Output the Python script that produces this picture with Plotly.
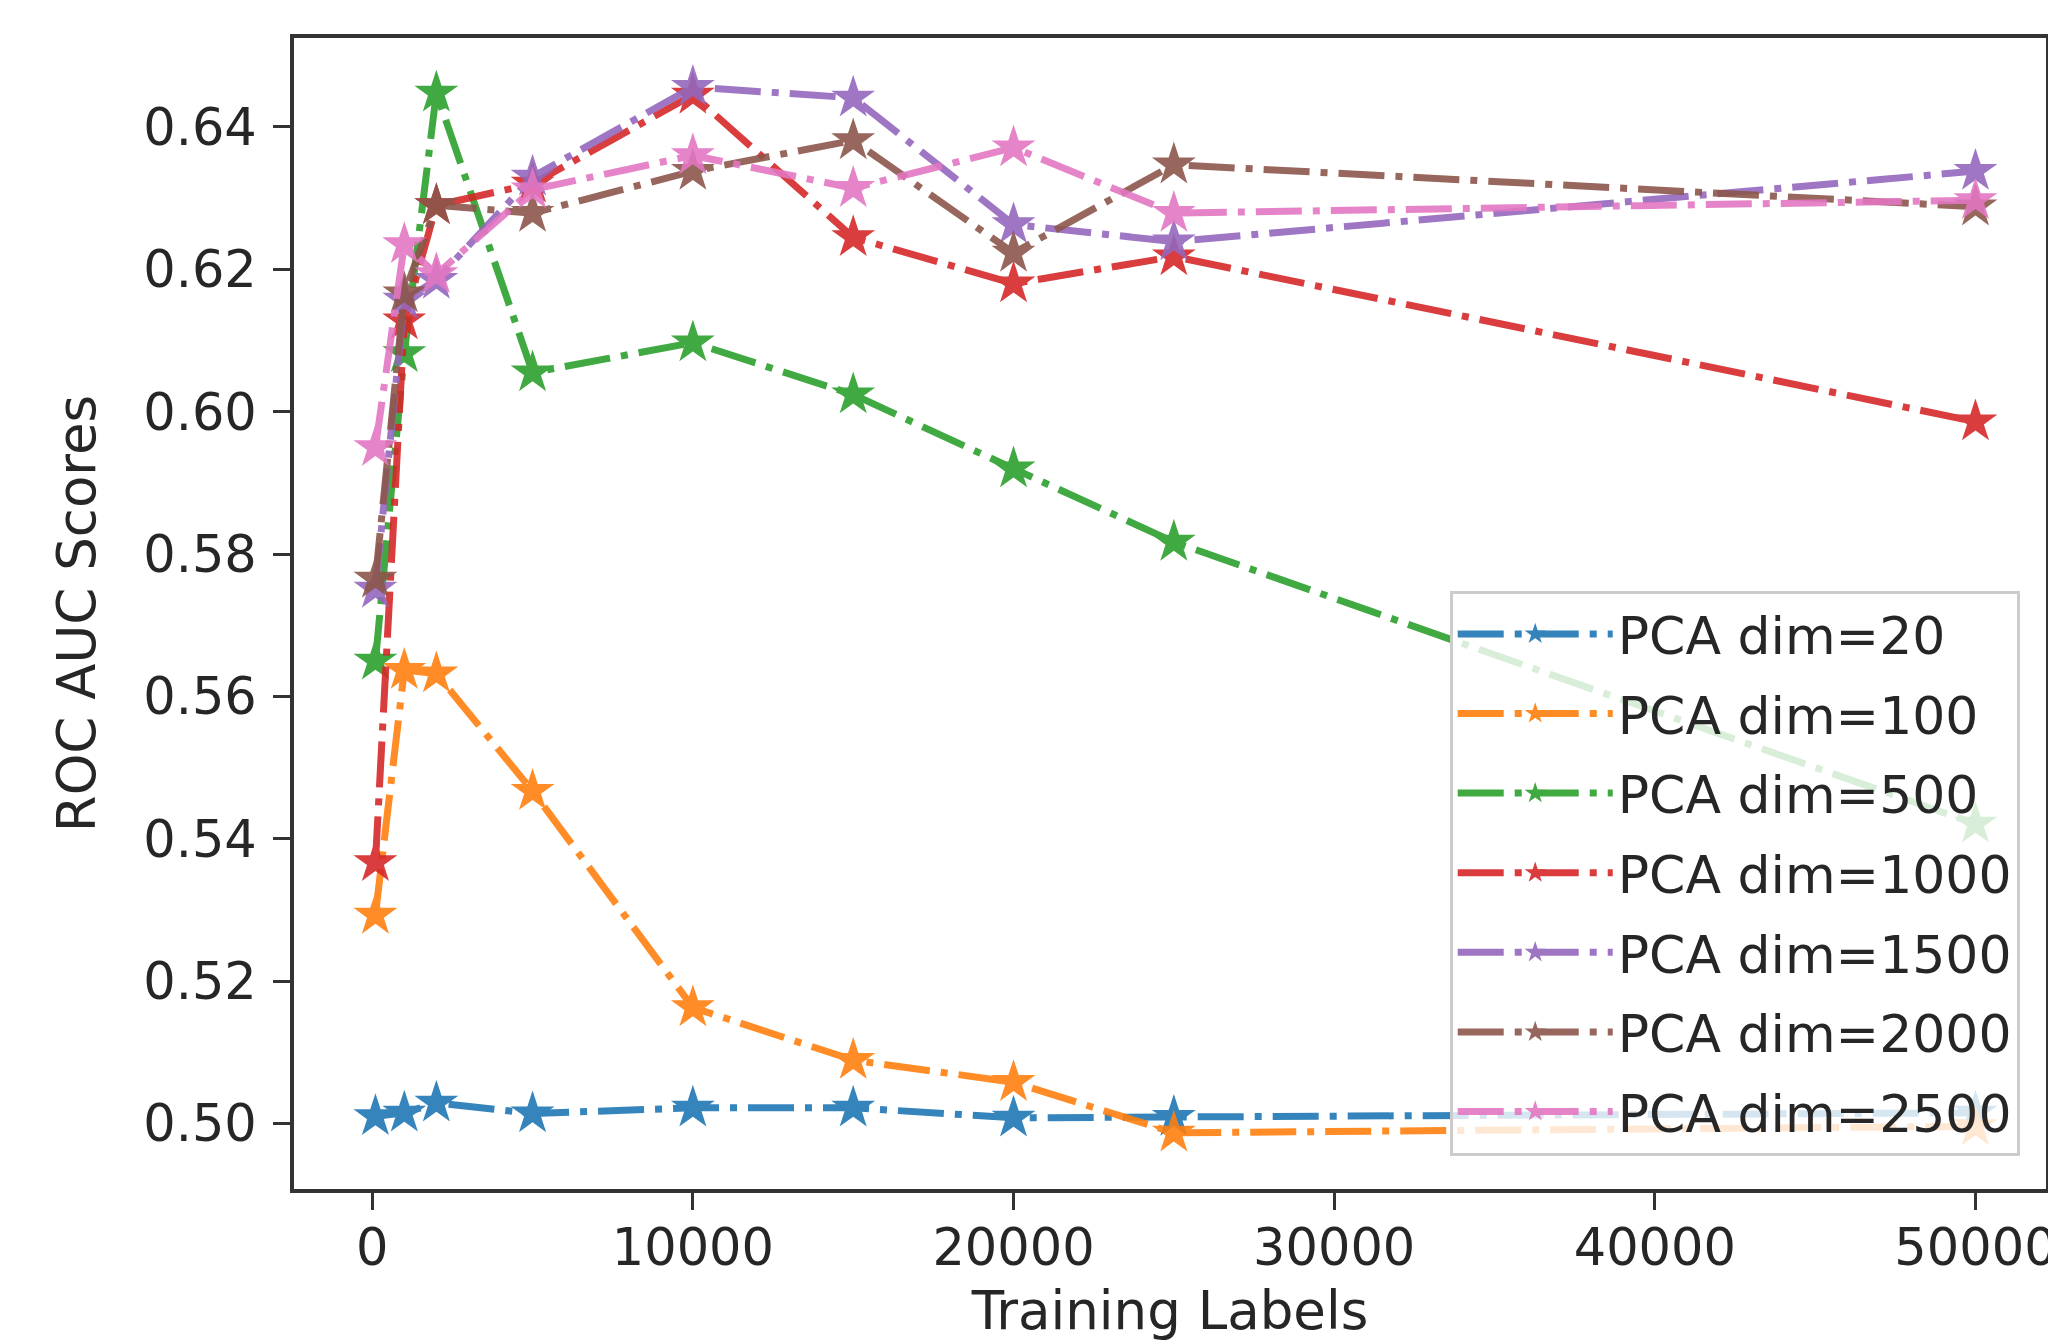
import plotly.graph_objects as go

# Data
training_labels = [100, 1000, 2000, 5000, 10000, 15000, 20000, 25000, 50000]

pca_20 = [0.5010, 0.5015, 0.5029, 0.5014, 0.5022, 0.5022, 0.5008, 0.5009, 0.5015]
pca_100 = [0.5293, 0.5637, 0.5632, 0.5467, 0.5163, 0.5089, 0.5058, 0.4987, 0.4996]
pca_500 = [0.5650, 0.6082, 0.6448, 0.6055, 0.6097, 0.6024, 0.5920, 0.5817, 0.5421]
pca_1000 = [0.5367, 0.6128, 0.6290, 0.6320, 0.6445, 0.6245, 0.6180, 0.6218, 0.5986]
pca_1500 = [0.5751, 0.6157, 0.6185, 0.6330, 0.6456, 0.6441, 0.6263, 0.6239, 0.6338]
pca_2000 = [0.5765, 0.6166, 0.6290, 0.6279, 0.6338, 0.6381, 0.6223, 0.6347, 0.6288]
pca_2500 = [0.5950, 0.6235, 0.6193, 0.6312, 0.6360, 0.6314, 0.6371, 0.6279, 0.6297]

series_names = ["PCA dim=20", "PCA dim=100", "PCA dim=500", "PCA dim=1000",
                "PCA dim=1500", "PCA dim=2000", "PCA dim=2500"]
series_values = [pca_20, pca_100, pca_500, pca_1000, pca_1500, pca_2000, pca_2500]
colors = ["#1f77b4", "#ff7f0e", "#2ca02c", "#d62728", "#9467bd", "#8c564b", "#e377c2"]

x_tick_vals = [0, 10000, 20000, 30000, 40000, 50000]
y_tick_vals = [0.50, 0.52, 0.54, 0.56, 0.58, 0.60, 0.62, 0.64]

FONT = "DejaVu Sans"
TXT = "#262626"

fig = go.Figure()
for i, (name, vals, col) in enumerate(zip(series_names, series_values, colors)):
    fig.add_trace(go.Scatter(
        x=training_labels, y=vals, name=name, mode="lines+markers",
        legendgroup=f"g{i}",
        line=dict(color=col, width=7, dash="46px,11px,7px,11px"),
        marker=dict(symbol="star", size=33, color=col, line=dict(width=0)),
        opacity=0.9,
    ))

W, H = 2048, 1333
L, R, T, B = 286, 0, 30, 152

axis_common = dict(
    showgrid=False, zeroline=False, showline=True, linecolor="#333333",
    linewidth=4, mirror=True, ticks="outside", ticklen=17, tickwidth=3,
    tickcolor="#333333", tickfont=dict(family=FONT, size=51, color=TXT),
    ticklabeloverflow="allow",
)

fig.update_layout(
    width=W, height=H,
    margin=dict(l=L, r=R, t=T, b=B, pad=0),
    plot_bgcolor="white", paper_bgcolor="white",
    font=dict(family=FONT, color=TXT),
    xaxis=dict(range=[-2440, 52200], tickvals=x_tick_vals,
               ticktext=[str(v) for v in x_tick_vals],
               ticklabelstandoff=-6,
               title=dict(text="Training Labels", font=dict(family=FONT, size=53, color=TXT), standoff=22),
               **axis_common),
    yaxis=dict(range=[0.4908, 0.6525], tickvals=y_tick_vals,
               ticktext=[f"{v:.2f}" for v in y_tick_vals],
               ticklabelstandoff=6,
               title=dict(text="ROC AUC Scores", font=dict(family=FONT, size=53, color=TXT), standoff=32),
               **axis_common),
    legend=dict(
        x=0.985, y=0.029, xanchor="right", yanchor="bottom",
        bgcolor="rgba(255,255,255,0.8)", bordercolor="#cccccc", borderwidth=3,
        font=dict(family=FONT, size=52, color=TXT),
        tracegroupgap=9, itemwidth=155,
    ),
    showlegend=True,
)

fig.write_html("out.html")
